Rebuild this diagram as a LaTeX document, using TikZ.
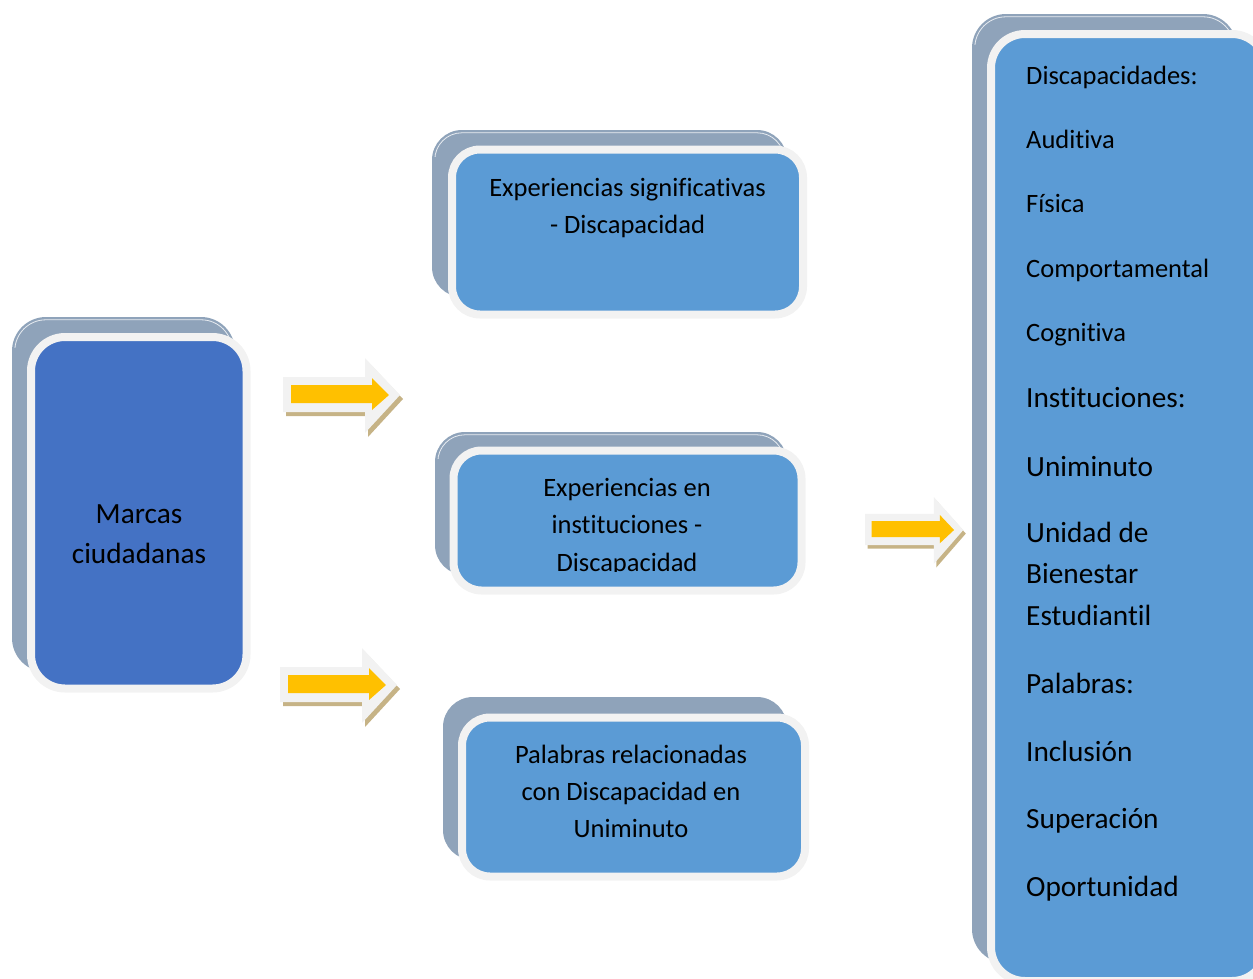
\documentclass[tikz,border=0pt]{standalone}
\usepackage{fontspec}
\setmainfont{Carlito}[Ligatures=NoCommon]
\definecolor{shade}{HTML}{8FA3BA}
\definecolor{rim}{HTML}{F2F2F2}
\definecolor{dblue}{HTML}{4472C4}
\definecolor{lblue}{HTML}{5B9BD5}
\definecolor{gold}{HTML}{FFC000}
\definecolor{tanshadow}{HTML}{C6B386}
\newcommand\hilite[2]{%
  \begin{scope}
    \clip ([shift={(-2,-2)}]#1.north west) rectangle ([shift={(2,#2)}]#1.north east);
    \draw[white, line width=0.8pt, opacity=0.8, rounded corners=#2pt]
      ([shift={(3,3)}]#1.north west) rectangle ([shift={(-3,-3)}]#1.south east);
  \end{scope}}
\begin{document}
\begin{tikzpicture}[x=1pt,y=-1pt,
  shadowbox/.style={fill=shade, rounded corners=30pt, inner sep=0pt},
  mainbox/.style={draw=rim, line width=8pt, rounded corners=28pt, inner sep=0pt},
  small/.style={font=\fontsize{26.5}{32}\selectfont, inner sep=0pt, anchor=base},
  big/.style={font=\fontsize{29.3}{35}\selectfont, inner sep=0pt, anchor=base},
  pics/blockarrow/.style={code={
    \fill[tanshadow] (3,-14) -- (85,-14) -- (85,-33) -- (120,4) -- (85,42) -- (85,21) -- (3,21) -- cycle;
    \fill[rim] (0,-18) -- (82,-18) -- (82,-37) -- (117,0) -- (82,38) -- (82,17) -- (0,17) -- cycle;
    \fill[gold] (8,-10) -- (89,-10) -- (89,-17) -- (106,0) -- (89,15) -- (89,8) -- (8,8) -- cycle;
  }}]
\useasboundingbox (0,0) rectangle (1253,978);
\clip (0,0) rectangle (1253,978);

% left box
\node[shadowbox, rounded corners=34pt, minimum width=223pt, minimum height=355pt] (marcasS) at (123.5,494.5) {};
\hilite{marcasS}{31}
\node[mainbox, fill=dblue, rounded corners=34pt, minimum width=215.5pt, minimum height=351.5pt] (marcas) at (138.75,512.75) {};
\node[big] (m1) at (139,523) {Marcas};
\node[big] (m2) at (139,563) {ciudadanas};

% box 1
\node[shadowbox, minimum width=355pt, minimum height=167pt] (expS) at (609.5,213.5) {};
\hilite{expS}{27}
\node[mainbox, fill=lblue, minimum width=351pt, minimum height=165pt] (exp) at (627.5,232) {};
\node[small] (e1) at (627.5,196) {Experiencias significativas};
\node[small] (e2) at (627.5,233) {- Discapacidad};

% box 2
\node[shadowbox, minimum width=352pt, minimum height=143pt] (instS) at (611,503.5) {};
\hilite{instS}{27}
\node[mainbox, fill=lblue, minimum width=348pt, minimum height=140pt] (inst) at (627.5,520.5) {};
\begin{scope}
\clip (450,440) rectangle (810,571);
\node[small] (i1) at (627,496) {Experiencias en};
\node[small] (i2) at (627,533) {instituciones -};
\node[small] (i3) at (627,571) {Discapacidad};
\end{scope}

% box 3
\node[shadowbox, minimum width=344pt, minimum height=163pt] (palS) at (615,778.5) {};
\node[mainbox, fill=lblue, minimum width=343pt, minimum height=159pt] (pal) at (633.5,797) {};
\node[small] (p1) at (631,763) {Palabras relacionadas};
\node[small] (p2) at (631,800) {con Discapacidad en};
\node[small] (p3) at (631,837) {Uniminuto};

% right box
\node[shadowbox, rounded corners=34pt, minimum width=265pt, minimum height=949pt] (rightS) at (1104.5,488.5) {};
\hilite{rightS}{31}
\node[mainbox, fill=lblue, rounded corners=34pt, minimum width=275pt, minimum height=947pt] (right) at (1128.5,507.5) {};
\node[small, anchor=base west] (r1) at (1026,84) {Discapacidades:};
\node[small, anchor=base west] (r2) at (1026,148) {Auditiva};
\node[small, anchor=base west] (r3) at (1026,212) {Física};
\node[small, anchor=base west] (r4) at (1026,277) {Comportamental};
\node[small, anchor=base west] (r5) at (1026,341) {Cognitiva};
\node[big, anchor=base west] (r6) at (1026,407) {Instituciones:};
\node[big, anchor=base west] (r7) at (1026,476) {Uniminuto};
\node[big, anchor=base west] (r8) at (1026,542) {Unidad de};
\node[big, anchor=base west] (r9) at (1026,583) {Bienestar};
\node[big, anchor=base west] (r10) at (1026,625) {Estudiantil};
\node[big, anchor=base west] (r11) at (1026,693) {Palabras:};
\node[big, anchor=base west] (r12) at (1026,761) {Inclusión};
\node[big, anchor=base west] (r13) at (1026,828) {Superación};
\node[big, anchor=base west] (r14) at (1026,896) {Oportunidad};

% arrows
\pic (arrA) at (283,395) {blockarrow};
\pic (arrB) at (280,685) {blockarrow};
\pic[xscale=0.84, yscale=0.89] (arrC) at (865,530) {blockarrow};
\end{tikzpicture}
\end{document}
